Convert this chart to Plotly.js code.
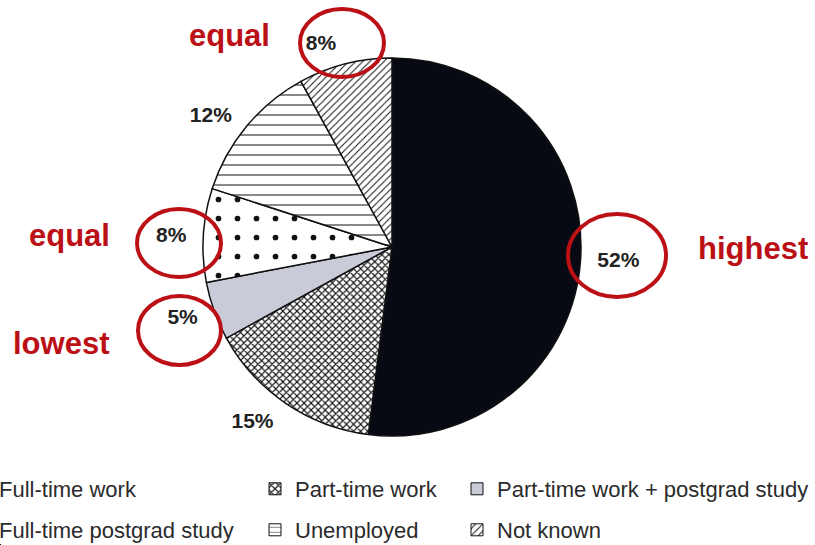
<!DOCTYPE html>
<html>
<head>
<meta charset="utf-8">
<script src="https://cdn.plot.ly/plotly-3.0.1.min.js"></script>
<style>
  html, body { margin: 0; padding: 0; background: #ffffff; }
  #chart { width: 815px; height: 545px; }
</style>
</head>
<body>
<div id="chart"></div>
<script>
// ---- data ----
const categories = [
  'Full-time work',
  'Part-time work',
  'Part-time work + postgrad study',
  'Full-time postgrad study',
  'Unemployed',
  'Not known'
];
const shares = [52, 15, 5, 8, 12, 8];

// ---- styles ----
const fillColors = ['#070a13', '#ffffff', '#c9cbd9', '#ffffff', '#ffffff', '#ffffff'];
const patternShapes = ['', 'x', '', '.', '-', '/'];
const patternSizes = [8, 5, 8, 19, 10, 5];
const patternSolidity = [0.3, 0.4, 0.3, 0.07, 0.1, 0.2];

const W = 815, H = 545;
const px = x => x / W;
const py = y => 1 - y / H;

const labelFont = { family: 'Liberation Sans, Arial, sans-serif', size: 21, color: '#222222' };
const redColor = '#bb1016';
const transparent = categories.map(() => 'rgba(0,0,0,0)');

const traces = [];
// label carrier: same slices, slightly larger radius, invisible, so the outside
// percentages sit a little farther from the rim as in the reference
traces.push({
  type: 'pie',
  labels: categories,
  values: shares,
  sort: false,
  direction: 'clockwise',
  rotation: 0,
  domain: { x: [px(192), px(592)], y: [py(447), py(47)] },
  marker: { colors: transparent, line: { width: 0 } },
  textposition: 'outside',
  texttemplate: '<b>%{value}%</b>',
  textfont: labelFont,
  outsidetextfont: labelFont,
  hoverinfo: 'skip',
  showlegend: false
});
traces.push({
  type: 'pie',
  labels: categories,
  values: shares,
  sort: false,
  direction: 'clockwise',
  rotation: 0,
  domain: { x: [px(203), px(581)], y: [py(436), py(58)] },
  marker: {
    colors: fillColors,
    line: { color: '#111111', width: 1.5 },
    pattern: {
      shape: patternShapes,
      fgcolor: '#111111',
      bgcolor: fillColors,
      size: patternSizes,
      solidity: patternSolidity
    }
  },
  textinfo: 'none',
  hoverinfo: 'skip',
  showlegend: false
});

// legend entries (one legend per entry so the columns can sit where they do in the reference)
const legendNames = ['legend', 'legend2', 'legend3', 'legend4', 'legend5', 'legend6'];
categories.forEach((cat, i) => {
  traces.push({
    type: 'pie',
    labels: [cat],
    values: [shares[i]],
    sort: false,
    domain: { x: [0, 0.0004], y: [0, 0.0004] },
    marker: {
      colors: [fillColors[i]],
      line: { color: '#111111', width: 1 },
      pattern: {
        shape: [patternShapes[i]],
        fgcolor: '#111111',
        bgcolor: [fillColors[i]],
        size: [Math.min(patternSizes[i], 5)],
        solidity: [patternSolidity[i] < 0.1 ? 0.15 : patternSolidity[i]]
      }
    },
    textinfo: 'none',
    hoverinfo: 'skip',
    showlegend: true,
    legend: legendNames[i]
  });
});

const colX = [-41, 255, 457];
const rowY = [489, 530];
const legendFont = { family: 'Liberation Sans, Arial, sans-serif', size: 22, color: '#2b2b2b' };
const layout = {
  width: W,
  height: H,
  margin: { l: 0, r: 0, t: 0, b: 0, autoexpand: false },
  paper_bgcolor: '#ffffff',
  plot_bgcolor: '#ffffff',
  annotations: [
    { text: '<b>equal</b>', x: px(229), y: py(35) },
    { text: '<b>equal</b>', x: px(69), y: py(235) },
    { text: '<b>lowest</b>', x: px(61), y: py(343) },
    { text: '<b>highest</b>', x: px(753), y: py(249) }
  ].map(a => Object.assign(a, {
    xref: 'paper', yref: 'paper', xanchor: 'center', yanchor: 'middle', showarrow: false,
    font: { family: 'Liberation Sans, Arial, sans-serif', size: 31, color: redColor }
  })),
  shapes: [
    [300, 9, 384, 77],
    [137, 209, 221, 277],
    [138, 296, 221, 365],
    [568, 214, 666, 297]
  ].map(r => ({
    type: 'circle', xref: 'paper', yref: 'paper',
    x0: px(r[0]), x1: px(r[2]), y0: py(r[3]), y1: py(r[1]),
    line: { color: redColor, width: 4 }
  }))
};
// legend grid positions: index -> [column,row]
const gridPos = [[0, 0], [1, 0], [2, 0], [0, 1], [1, 1], [2, 1]];
legendNames.forEach((name, i) => {
  layout[name] = {
    x: colX[gridPos[i][0]] / W,
    y: py(rowY[gridPos[i][1]]),
    xanchor: 'left',
    yanchor: 'middle',
    orientation: 'v',
    bgcolor: 'rgba(0,0,0,0)',
    borderwidth: 0,
    font: legendFont
  };
});

Plotly.newPlot('chart', traces, layout, { displayModeBar: false, staticPlot: true });
</script>
</body>
</html>
